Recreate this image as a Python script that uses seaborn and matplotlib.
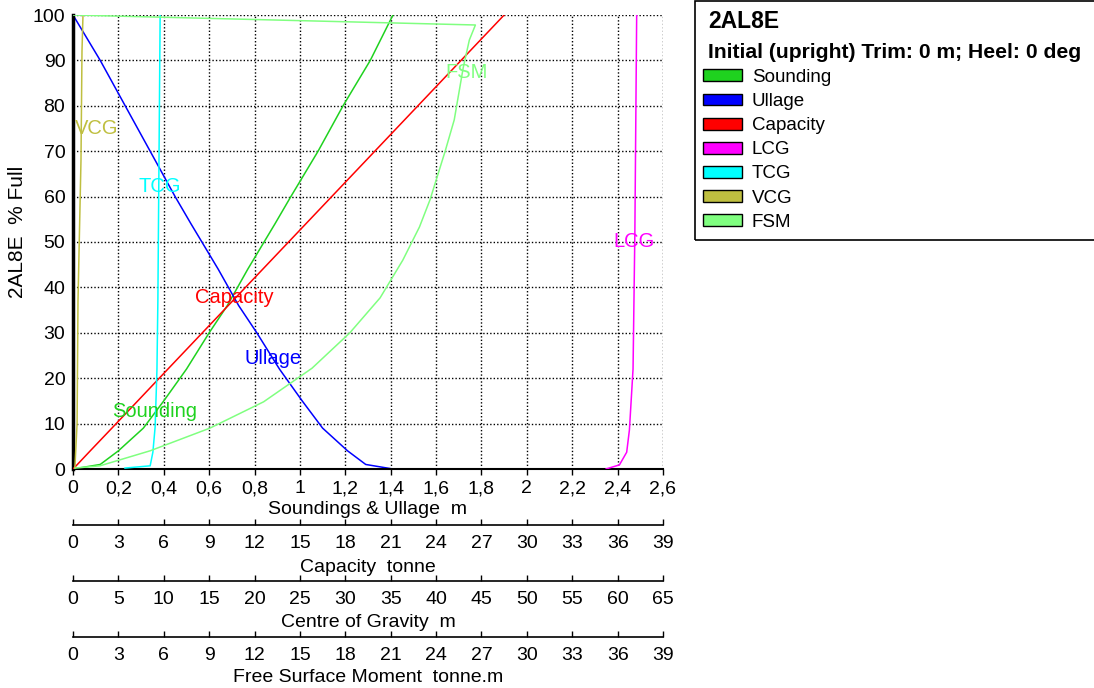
import matplotlib
matplotlib.use("Agg")
import matplotlib.pyplot as plt
from matplotlib.patches import Patch, Rectangle
import seaborn as sns
import pandas as pd

# --- Data ---
PCT = [0, 1, 4, 9, 15, 22, 30, 36, 44, 54, 60, 70, 80, 90, 100]
SOUNDING = [0.0, 0.12, 0.20, 0.31, 0.40, 0.50, 0.60, 0.68, 0.77, 0.89, 0.96, 1.08, 1.19, 1.31, 1.41]
ULLAGE = [1.41, 1.29, 1.21, 1.10, 1.01, 0.91, 0.81, 0.73, 0.64, 0.52, 0.45, 0.34, 0.23, 0.12, 0.0]
CAPACITY = [0, 0.29, 1.14, 2.57, 4.28, 6.27, 8.55, 10.26, 12.54, 15.39, 17.1, 19.95, 22.8, 25.65, 28.5]

PCT_LCG = [0, 0.9, 3.7, 8.6, 22, 37, 52, 100]
LCG = [58.7, 60.2, 61.0, 61.3, 61.7, 61.8, 61.9, 62.1]

PCT_TCG = [0.2, 0.7, 3.7, 9.3, 22, 37, 100]
TCG = [5.7, 8.5, 8.8, 9.05, 9.25, 9.35, 9.6]

PCT_VCG = [0, 10, 37, 68, 92, 100]
VCG = [0.2, 0.45, 0.55, 0.88, 0.99, 1.1]

PCT_FSM = [0.2, 0.7, 4.0, 9.0, 14.8, 22.2, 30.0, 37.7, 46.0, 53.3, 59.3, 70.0, 76.9, 88.5, 94.5, 97.8, 100]
FSM = [0.13, 1.78, 5.09, 9.05, 12.6, 15.8, 18.3, 20.3, 21.8, 22.9, 23.6, 24.6, 25.2, 25.8, 26.2, 26.6, 0]

M_TICKS = [0, 0.2, 0.4, 0.6, 0.8, 1.0, 1.2, 1.4, 1.6, 1.8, 2.0, 2.2, 2.4, 2.6]
M_LABELS = ["0", "0,2", "0,4", "0,6", "0,8", "1", "1,2", "1,4", "1,6", "1,8", "2", "2,2", "2,4", "2,6"]
TONNE_TICKS = list(range(0, 40, 3))
COG_TICKS = list(range(0, 66, 5))
Y_TICKS = list(range(0, 101, 10))

COLORS = {
    "Sounding": "#1fd21f",
    "Ullage": "#0000ff",
    "Capacity": "#ff0000",
    "LCG": "#ff00ff",
    "TCG": "#00ffff",
    "VCG": "#bfbf40",
    "FSM": "#80ff80",
}

# --- Style ---
sns.set_theme(style="white")
plt.rcParams["font.family"] = ["Liberation Sans", "DejaVu Sans"]
for key in ["text.color", "axes.labelcolor", "xtick.color", "ytick.color"]:
    plt.rcParams[key] = "black"

TICK_FS = 14
LABEL_FS = 14

fig = plt.figure(figsize=(10.94, 6.88), dpi=100)
ax = fig.add_axes([73 / 1094, 1 - 469 / 688, 590 / 1094, 454 / 688])


def twin_axis(offset_px, xmax, ticks, label):
    tw = ax.twiny()
    tw.set_xlim(0, xmax)
    tw.xaxis.set_ticks_position("bottom")
    tw.xaxis.set_label_position("bottom")
    tw.spines["bottom"].set_position(("outward", offset_px * 72 / 100))
    for s in ["top", "left", "right"]:
        tw.spines[s].set_visible(False)
    tw.spines["bottom"].set_color("black")
    tw.spines["bottom"].set_linewidth(1.2)
    tw.set_xticks(ticks)
    tw.set_xticklabels([str(t) for t in ticks], fontsize=TICK_FS)
    tw.tick_params(axis="x", direction="in", length=4, width=1, color="black", pad=7)
    tw.grid(False)
    return tw


ax_cap = twin_axis(56, 39, TONNE_TICKS, "Capacity  tonne")
ax_cog = twin_axis(112, 65, COG_TICKS, "Centre of Gravity  m")
ax_fsm = twin_axis(168, 39, TONNE_TICKS, "Free Surface Moment  tonne.m")

series = [
    (ax, SOUNDING, PCT, "Sounding"),
    (ax, ULLAGE, PCT, "Ullage"),
    (ax_cap, CAPACITY, PCT, "Capacity"),
    (ax_cog, LCG, PCT_LCG, "LCG"),
    (ax_cog, TCG, PCT_TCG, "TCG"),
    (ax_cog, VCG, PCT_VCG, "VCG"),
    (ax_fsm, FSM, PCT_FSM, "FSM"),
]
for a, xs, ys, name in series:
    df = pd.DataFrame({"x": xs, "y": ys})
    sns.lineplot(data=df, x="x", y="y", ax=a, sort=False, estimator=None,
                 color=COLORS[name], linewidth=1.1)
    a.set_ylabel("")

ax_cap.set_xlim(0, 39)
ax_cog.set_xlim(0, 65)
ax_fsm.set_xlim(0, 39)
ax_cap.set_xlabel("Capacity  tonne", fontsize=LABEL_FS, labelpad=5)
ax_cog.set_xlabel("Centre of Gravity  m", fontsize=LABEL_FS, labelpad=4.5)
ax_fsm.set_xlabel("Free Surface Moment  tonne.m", fontsize=LABEL_FS, labelpad=3.5)

ax.set_xlim(0, 2.6)
ax.set_ylim(0, 100)
ax.set_xticks(M_TICKS)
ax.set_xticklabels(M_LABELS, fontsize=TICK_FS)
ax.set_yticks(Y_TICKS)
ax.set_yticklabels([str(t) for t in Y_TICKS], fontsize=TICK_FS)
ax.tick_params(axis="x", direction="out", length=4, width=1, color="black", pad=4)
ax.tick_params(axis="y", direction="out", length=4, width=1, color="black", pad=1.5)
ax.grid(True, color="black", linestyle=(0, (1, 1.5)), linewidth=1.0)
ax.set_axisbelow(True)
ax.set_xlabel("Soundings & Ullage  m", fontsize=LABEL_FS, labelpad=3)
ax.set_ylabel("2AL8E  % Full", fontsize=15)
ax.yaxis.set_label_coords(-46 / 590, 237 / 454)
ax.spines["top"].set_visible(False)
ax.spines["right"].set_visible(False)
ax.spines["left"].set_color("black")
ax.spines["left"].set_linewidth(2.5)
ax.spines["bottom"].set_color("black")
ax.spines["bottom"].set_linewidth(1.5)

# curve labels
labels = [
    ("VCG", 0.01, 75.1, "left"),
    ("TCG", 0.383, 62.3, "center"),
    ("Capacity", 0.709, 37.7, "center"),
    ("Ullage", 0.881, 24.4, "center"),
    ("Sounding", 0.361, 12.6, "center"),
    ("FSM", 1.736, 87.4, "center"),
    ("LCG", 2.471, 50.2, "center"),
]
for name, lx, ly, ha in labels:
    ax_fsm.text(lx / 2.6, ly / 100, name, color=COLORS[name], fontsize=14.5,
                ha=ha, va="center", transform=ax.transAxes, zorder=10)

# legend box
fig.add_artist(Rectangle((695 / 1094, 1 - 240 / 688), 0.5, 239 / 688,
                         transform=fig.transFigure, fill=False,
                         edgecolor="black", linewidth=1.2))
fig.text(708 / 1094, 1 - 22 / 688, "2AL8E", fontsize=16.5, fontweight="bold",
         va="center", ha="left")
fig.text(708 / 1094, 1 - 52 / 688, "Initial (upright) Trim: 0 m; Heel: 0 deg",
         fontsize=15.2, fontweight="bold", va="center", ha="left")
handles = [Patch(facecolor=COLORS[n], edgecolor="black", linewidth=1.0) for n in COLORS]
fig.legend(handles, list(COLORS.keys()), loc="upper left",
           bbox_to_anchor=(703 / 1094, 1 - 69 / 688), frameon=False,
           fontsize=13.5, handlelength=2.1, handleheight=0.6,
           handletextpad=0.5, labelspacing=0.38, borderaxespad=0, borderpad=0)

fig.savefig("out.png", dpi=100)
